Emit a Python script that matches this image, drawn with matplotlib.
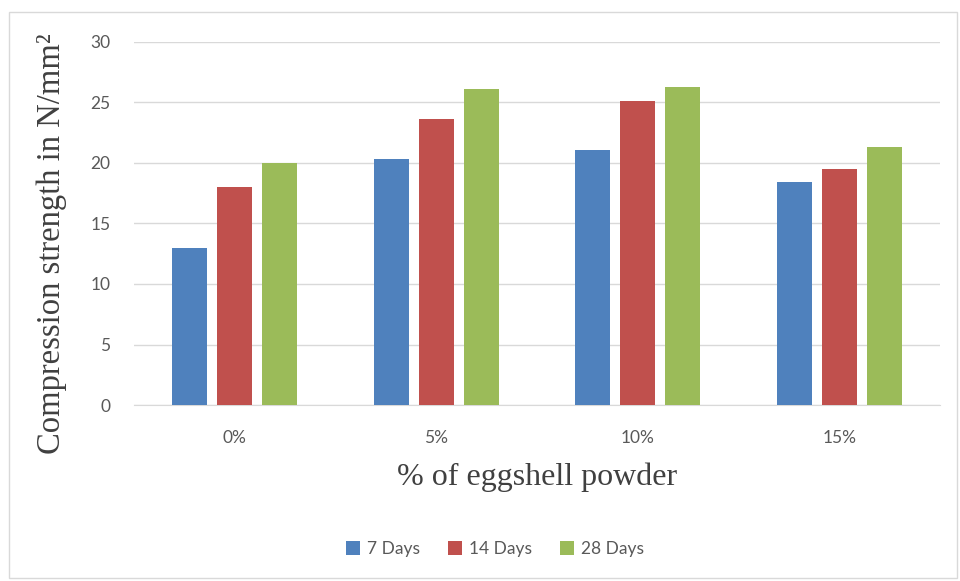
import matplotlib
matplotlib.use('Agg')
import matplotlib.pyplot as plt
from matplotlib.patches import Rectangle
import numpy as np

# chart data
categories = ['0%', '5%', '10%', '15%']
series_labels = ['7 Days', '14 Days', '28 Days']
days_7 = [13.0, 20.35, 21.1, 18.4]
days_14 = [18.0, 23.65, 25.1, 19.5]
days_28 = [20.0, 26.1, 26.25, 21.35]
y_ticks = [0, 5, 10, 15, 20, 25, 30]

colors = ['#4F81BD', '#C0504D', '#9BBB59']
tick_color = '#595959'
grid_color = '#D9D9D9'

fig = plt.figure(figsize=(9.6, 5.81), dpi=100)
ax = fig.add_axes([134 / 960, 1 - 405 / 581, 806 / 960, 363 / 581])

# outer chart border
fig.patches.append(Rectangle((9 / 960, 3 / 581), 948 / 960, 566 / 581,
                             transform=fig.transFigure, fill=False,
                             edgecolor=grid_color, linewidth=1))

x = np.arange(len(categories))
width = 0.174
step = 0.223
for i, values in enumerate([days_7, days_14, days_28]):
    ax.bar(x + (i - 1) * step, values, width, color=colors[i],
           label=series_labels[i], zorder=3)

ax.set_xlim(-0.5, len(categories) - 0.5)
ax.set_ylim(0, 30)
ax.set_yticks(y_ticks)
ax.set_xticks(x)
ax.set_xticklabels(categories)

ax.grid(axis='y', color=grid_color, linewidth=1, zorder=0)
for side in ['top', 'right', 'left']:
    ax.spines[side].set_visible(False)
ax.spines['bottom'].set_color(grid_color)
ax.tick_params(axis='both', length=0, colors=tick_color, labelsize=12.5)
ax.tick_params(axis='y', pad=17)
ax.tick_params(axis='x', pad=18)
for lbl in ax.get_xticklabels() + ax.get_yticklabels():
    lbl.set_family('Lato')

fig.text(52 / 960, 1 - 244 / 581, 'Compression strength in N/mm\u00b2',
         rotation=90, ha='center', va='center', fontsize=23.5,
         family='Liberation Serif', color='#404040')
fig.text(537 / 960, 1 - 477 / 581, '% of eggshell powder',
         ha='center', va='center', fontsize=23,
         family='Liberation Serif', color='#404040')

fig.legend(loc='center', bbox_to_anchor=(495 / 960, 1 - 549 / 581), ncol=3,
           frameon=False, prop={'family': 'Lato', 'size': 12.5},
           labelcolor=tick_color, handlelength=0.8, handleheight=0.8,
           handletextpad=0.4, columnspacing=1.6)

fig.savefig('out.png', dpi=100)
